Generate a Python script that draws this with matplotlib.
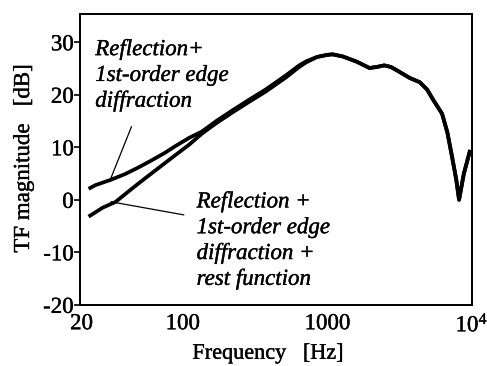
import matplotlib
matplotlib.use("Agg")
import matplotlib.pyplot as plt
import matplotlib.patheffects as pe
from matplotlib.ticker import FixedLocator, FixedFormatter, NullLocator

# Reflection + 1st-order edge diffraction (below ~800 Hz)
freq_a = [22.4, 25, 31.8, 40, 49, 60, 76, 90, 111, 136, 171, 220, 290, 375, 518, 640, 718]
mag_a = [2.1, 2.8, 3.8, 4.9, 6.1, 7.4, 9.0, 10.3, 11.8, 13.0, 15.0, 17.0, 19.1, 21.0, 23.7, 25.6, 26.4]

# Reflection + edge diffraction + rest function (below ~800 Hz)
freq_b = [22.4, 28, 34.4, 45, 55.7, 70, 90, 111, 136, 171, 220, 290, 375, 518, 640, 718]
mag_b = [-3.2, -1.5, -0.4, 2.2, 4.2, 6.3, 8.6, 10.5, 12.6, 14.6, 16.6, 18.7, 20.6, 23.3, 25.3, 26.2]

# Shared response above ~800 Hz
freq_tail = [850, 1000, 1090, 1280, 1600, 1960, 2200, 2480, 2750, 3010, 3720, 4360,
             4900, 5440, 6220, 6770, 7290, 7800, 8150, 8800, 9730]
mag_tail = [27.2, 27.6, 27.7, 27.3, 26.3, 25.1, 25.3, 25.6, 25.3, 24.7, 23.2, 22.4,
            21.0, 18.9, 16.4, 12.8, 8.2, 3.8, 0.0, 5.0, 9.5]

x_ticks = [20, 100, 1000, 10000]
x_tick_labels = ["20", "100", "1000", "$10^4$"]
y_ticks = [-20, -10, 0, 10, 20, 30]

plt.rcParams["font.family"] = ["Liberation Serif", "DejaVu Serif"]
plt.rcParams["mathtext.fontset"] = "custom"
plt.rcParams["mathtext.rm"] = "Liberation Serif"
plt.rcParams["mathtext.it"] = "Liberation Serif:italic"

heavy = [pe.withStroke(linewidth=0.25, foreground="black")]

fig = plt.figure(figsize=(4.87, 3.66), dpi=100)
ax = fig.add_axes([0.164, 0.167, 0.805, 0.795])

lw = 2.7
ax.plot(freq_a + freq_tail, mag_a + mag_tail, color="black", lw=lw,
        solid_joinstyle="round", solid_capstyle="butt")
ax.plot(freq_b + freq_tail, mag_b + mag_tail, color="black", lw=lw,
        solid_joinstyle="round", solid_capstyle="butt")

ax.set_xscale("log")
ax.set_xlim(19.5, 10000)
ax.set_ylim(-20, 35.4)

ax.xaxis.set_major_locator(FixedLocator(x_ticks))
ax.xaxis.set_major_formatter(FixedFormatter(x_tick_labels))
ax.xaxis.set_minor_locator(NullLocator())
ax.set_yticks(y_ticks)
ax.set_yticklabels([str(v) for v in y_ticks])

ax.tick_params(axis="y", direction="out", length=4, width=1.2, labelsize=16.5, pad=0.5)
ax.tick_params(axis="x", direction="in", length=0, labelsize=16.5, pad=6)
for s in ax.spines.values():
    s.set_linewidth(1.4)

ax.set_xlabel("Frequency   [Hz]", fontsize=16)
ax.set_ylabel("TF magnitude   [dB]", fontsize=16.5)
ax.xaxis.set_label_coords(0.48, -0.137)
ax.yaxis.set_label_coords(-0.117, 0.503)

for t in ax.get_xticklabels() + ax.get_yticklabels():
    t.set_path_effects(heavy)
ax.xaxis.label.set_path_effects(heavy)
ax.yaxis.label.set_path_effects(heavy)

# Curve labels with leader lines
ax.text(24.9, 30.6, "Reflection+\n1st-order edge\ndiffraction", fontsize=16.5,
        style="italic", va="top", ha="left", linespacing=1.3, path_effects=heavy)
ax.plot([44.3, 31.6], [13.9, 3.8], color="black", lw=0.9)

ax.text(125, 1.6, "Reflection +\n1st-order edge\ndiffraction +\nrest function",
        fontsize=16.5, style="italic", va="top", ha="left", linespacing=1.3,
        path_effects=heavy)
ax.plot([32.1, 101.7], [-0.38, -2.86], color="black", lw=0.9)

fig.savefig("out.png", dpi=100)
